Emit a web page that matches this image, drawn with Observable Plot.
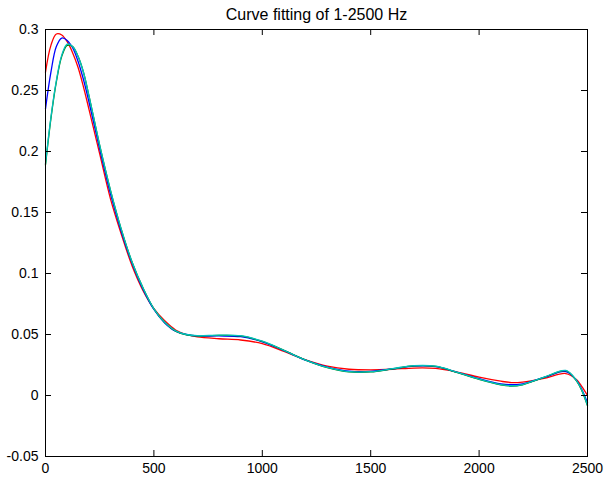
<!DOCTYPE html>
<html><head><meta charset="utf-8">
<script src="https://cdn.jsdelivr.net/npm/d3@7"></script>
<script src="https://cdn.jsdelivr.net/npm/@observablehq/plot@0.6"></script>
<style>body{margin:0;background:#fff} #chart{width:605px;height:478px}</style>
</head><body><div id="chart"></div>
<script>
const title = "Curve fitting of 1-2500 Hz";
const freq = [0,25,50,75,100,125,150,175,200,250,300,350,400,450,500,550,600,650,700,800,900,1000,1100,1200,1300,1400,1500,1600,1700,1800,1900,2000,2100,2150,2200,2300,2400,2450,2475,2500];
const fitRed = [0.265,0.287,0.2963,0.2955,0.290,0.281,0.269,0.253,0.235,0.198,0.161,0.132,0.106,0.086,0.0712,0.0612,0.0537,0.0500,0.0480,0.0465,0.0455,0.0425,0.0362,0.0292,0.0240,0.0215,0.0210,0.0215,0.0225,0.0222,0.0192,0.0150,0.0117,0.0106,0.0110,0.0140,0.0180,0.0130,0.0070,0.0000];
const fitBlue = [0.235,0.265,0.286,0.293,0.291,0.285,0.274,0.259,0.241,0.202,0.165,0.134,0.108,0.087,0.0705,0.0595,0.0527,0.0500,0.0488,0.0488,0.0482,0.0440,0.0368,0.0290,0.0233,0.0200,0.0198,0.0218,0.0240,0.0236,0.0190,0.0138,0.0095,0.0088,0.0096,0.0148,0.0196,0.0122,0.0045,-0.0060];
const fitGreen = [0.189,0.227,0.257,0.278,0.287,0.286,0.278,0.265,0.246,0.205,0.168,0.136,0.109,0.088,0.071,0.0598,0.0528,0.0498,0.0488,0.0493,0.0488,0.0443,0.037,0.029,0.0228,0.0193,0.0193,0.0218,0.0243,0.0238,0.0188,0.0133,0.0088,0.0078,0.0088,0.0148,0.0203,0.0118,0.0035,-0.0085];
const fitCyan = [0.190,0.228,0.258,0.279,0.288,0.286,0.278,0.265,0.246,0.205,0.168,0.136,0.109,0.088,0.071,0.060,0.053,0.050,0.049,0.0495,0.049,0.0445,0.037,0.029,0.023,0.0195,0.0195,0.022,0.0245,0.024,0.019,0.0135,0.009,0.008,0.009,0.015,0.0205,0.012,0.004,-0.008];
const xTicks = [0,500,1000,1500,2000,2500];
const yTicks = [-0.05,0,0.05,0.1,0.15,0.2,0.25,0.3];

const series = [
  {values: fitRed, color: "#ff0000"},
  {values: fitBlue, color: "#0000ff"},
  {values: fitGreen, color: "#008000"},
  {values: fitCyan, color: "#00bfbf"}
];

const W = 605, H = 478, mT = 29, mB = 22, mL = 45, mR = 18;
const innerW = W - mL - mR, innerH = H - mT - mB, tick = 6;

const lines = series.map(s => Plot.line(freq.map((f, i) => ({f, v: s.values[i]})), {
  x: "f", y: "v", stroke: s.color, strokeWidth: 1.3, curve: "catmull-rom"
}));

const chart = Plot.plot({
  width: W, height: H,
  marginTop: mT, marginBottom: mB, marginLeft: mL, marginRight: mR,
  style: {fontFamily: "'Liberation Sans', Arial, sans-serif", fontSize: "14px", color: "black", background: "white"},
  x: {domain: [0, 2500]},
  y: {domain: [-0.05, 0.3]},
  marks: [
    ...lines,
    Plot.frame({stroke: "black", strokeWidth: 1}),
    Plot.ruleX(xTicks, {x: d => d, insetTop: innerH - tick, stroke: "black"}),
    Plot.ruleX(xTicks, {x: d => d, insetBottom: innerH - tick, stroke: "black"}),
    Plot.ruleY(yTicks, {y: d => d, insetRight: innerW - tick, stroke: "black"}),
    Plot.ruleY(yTicks, {y: d => d, insetLeft: innerW - tick, stroke: "black"}),
    Plot.axisX({ticks: xTicks, tickSize: 0, tickPadding: 7, label: null, tickFormat: d => String(d)}),
    Plot.axisY({ticks: yTicks, tickSize: 0, tickPadding: 7, label: null, tickFormat: d => String(+d.toFixed(2))}),
    Plot.text([title], {frameAnchor: "top", lineAnchor: "bottom", dy: -10, fontSize: 16, fill: "black"})
  ]
});
document.getElementById("chart").appendChild(chart);
</script>
</body></html>
